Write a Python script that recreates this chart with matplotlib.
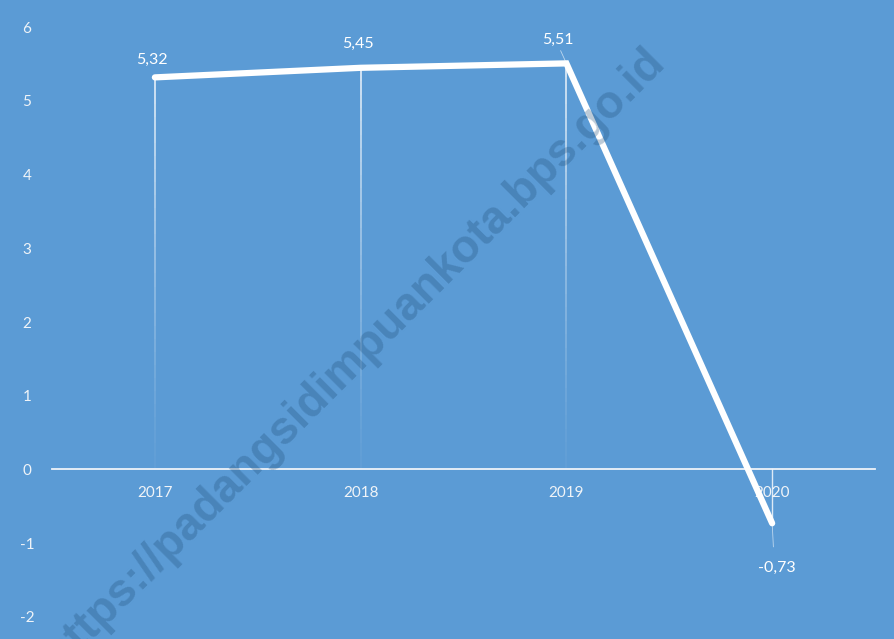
import matplotlib
matplotlib.use("Agg")
import matplotlib.pyplot as plt
import numpy as np

# data
years = ["2017", "2018", "2019", "2020"]
growth = [5.32, 5.45, 5.51, -0.73]
value_labels = ["5,32", "5,45", "5,51", "-0,73"]
y_ticks = [-2, -1, 0, 1, 2, 3, 4, 5, 6]

bg = "#5b9bd5"
fig = plt.figure(figsize=(8.95, 6.39), dpi=100, facecolor=bg)
ax = fig.add_axes([0.0581, 0, 0.9196, 1])
ax.set_facecolor(bg)

x = np.arange(len(years))

# drop lines, fading toward the axis
for xi, v in zip(x, growth):
    if v > 0:
        n = 30
        ys = np.linspace(0, v, n + 1)
        for k in range(n):
            a = 0.05 + 0.9 * (k / n) ** 1.3
            ax.plot([xi, xi], [ys[k], ys[k + 1]], color="white", lw=1.1,
                    alpha=a, solid_capstyle="butt", zorder=2)
    else:
        ax.plot([xi, xi], [0, v], color="white", lw=1.0, alpha=0.8, zorder=2)

ax.plot(x, growth, color="white", lw=4.5, solid_capstyle="round",
        solid_joinstyle="miter", zorder=4)

# data labels
offsets = [(-2, 12.5), (-2, 17), (-6, 17), (3, -32)]
for xi, v, lab, off in zip(x, growth, value_labels, offsets):
    ax.annotate(lab, (xi, v), xytext=off, textcoords="offset points",
                ha="center", va="center", color="white", fontsize=11.5,
                family="Lato", zorder=5)
# leader lines
ax.annotate("", (x[2], growth[2]), xytext=(-5, 11), textcoords="offset points",
            arrowprops=dict(arrowstyle="-", color="white", lw=0.6, alpha=0.6))
ax.annotate("", (x[3], growth[3]), xytext=(1, -19), textcoords="offset points",
            arrowprops=dict(arrowstyle="-", color="white", lw=0.6, alpha=0.6))

ax.set_xlim(-0.5, len(years) - 0.5)
ax.set_ylim(-2.30, 6.37)

for s in ["top", "right", "left"]:
    ax.spines[s].set_visible(False)
ax.spines["bottom"].set_position(("data", 0))
ax.spines["bottom"].set_color("#eef3f9")
ax.spines["bottom"].set_linewidth(1.3)
ax.spines["bottom"].set_zorder(3)

ax.set_xticks(x)
ax.set_xticklabels(years, family="Lato", fontsize=11, color="#f0f4f8")
ax.set_yticks(y_ticks)
ax.set_yticklabels([str(t) for t in y_ticks], family="Lato", fontsize=11,
                   color="#f0f4f8")
ax.tick_params(axis="x", length=0, pad=12)
ax.tick_params(axis="y", length=0, pad=18)
for t in ax.get_yticklabels():
    t.set_ha("center")

# watermark
fig.text(0.397, 0.44, "https://padangsidimpuankota.bps.go.id", rotation=45,
         rotation_mode="anchor", ha="center", va="center", fontsize=33,
         fontweight="bold", family="Liberation Sans", color="#1f4e79",
         alpha=0.3, zorder=10)

fig.savefig("out.png", dpi=100, facecolor=bg)
